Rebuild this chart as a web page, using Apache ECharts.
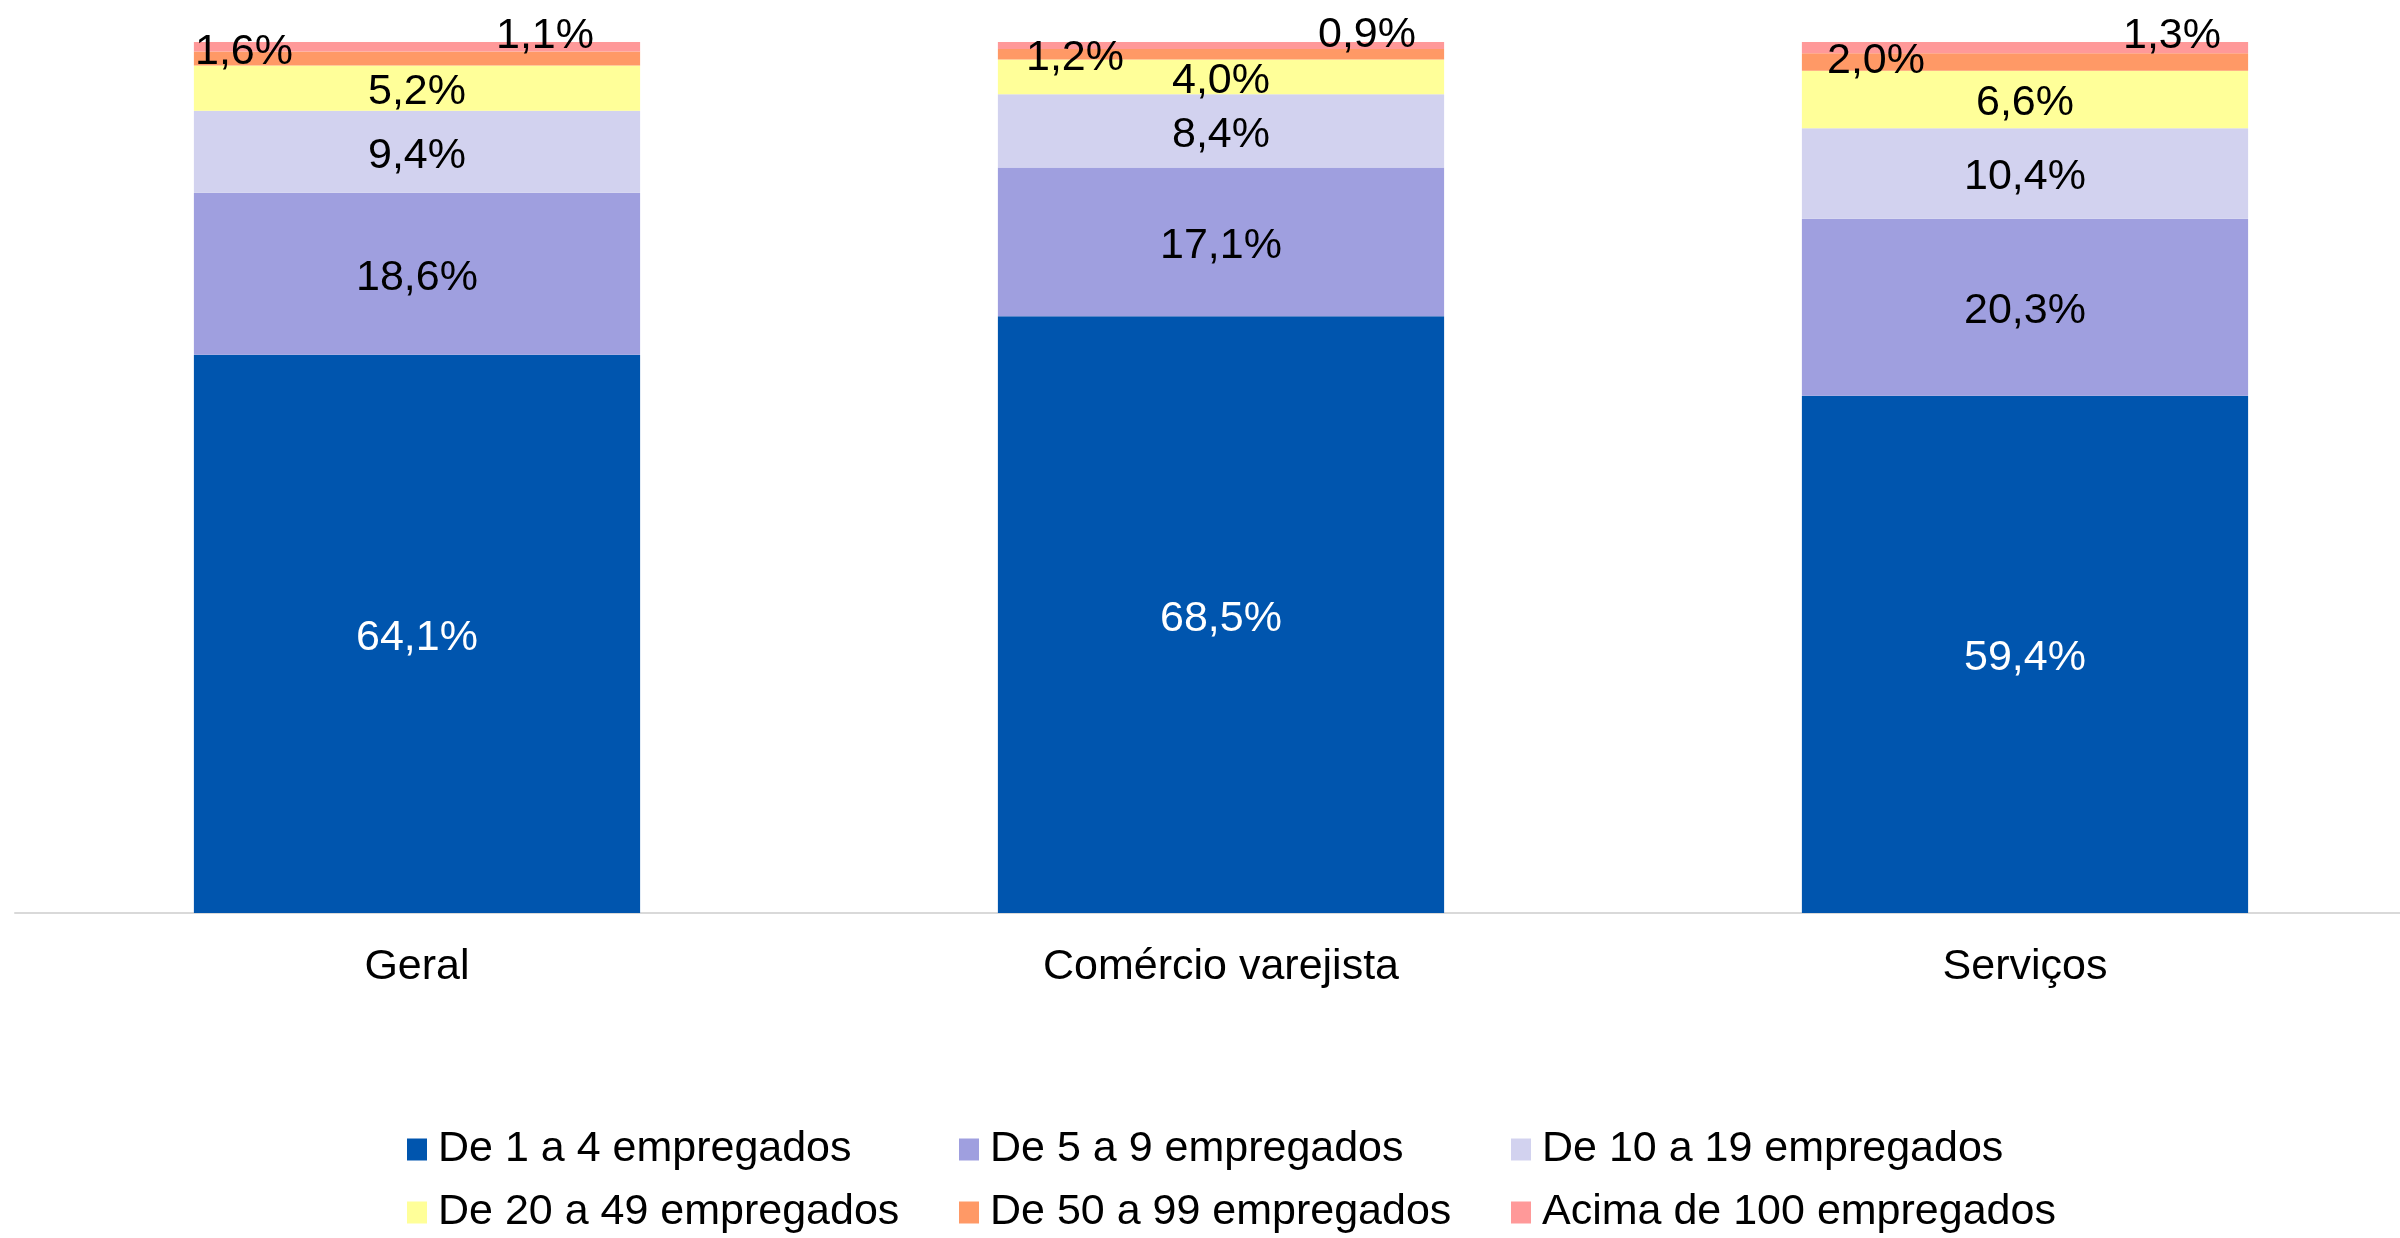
<!DOCTYPE html>
<html>
<head>
<meta charset="utf-8">
<script src="https://cdn.jsdelivr.net/npm/echarts@6/dist/echarts.min.js"></script>
<style>
html,body{margin:0;padding:0;background:#fff;}
#chart{width:2400px;height:1238px;}
</style>
</head>
<body>
<div id="chart"></div>
<script>
const categories = ['Geral', 'Comércio varejista', 'Serviços'];
const seriesNames = ['De 1 a 4 empregados', 'De 5 a 9 empregados', 'De 10 a 19 empregados',
  'De 20 a 49 empregados', 'De 50 a 99 empregados', 'Acima de 100 empregados'];
const de1a4 = [64.1, 68.5, 59.4];
const de5a9 = [18.6, 17.1, 20.3];
const de10a19 = [9.4, 8.4, 10.4];
const de20a49 = [5.2, 4.0, 6.6];
const de50a99 = [1.6, 1.2, 2.0];
const acima100 = [1.1, 0.9, 1.3];

const allValues = [de1a4, de5a9, de10a19, de20a49, de50a99, acima100];
const colors = ['#0055ae', '#9f9fdf', '#d2d2ef', '#ffff99', '#ff9966', '#ff9999'];
const labelColors = ['#ffffff', '#000000', '#000000', '#000000', '#000000', '#000000'];
// label offsets for the thin top segments (per category)
const labelOffsets = {
  4: [[-173, -6], [-146, 4], [-149, -1]],
  5: [[128, -11], [146, -10], [147, -12]]
};
const FONT = "'Liberation Sans', Arial, sans-serif";
const fmt = v => v.toFixed(1).replace('.', ',') + '%';

const series = allValues.map((vals, i) => ({
  name: seriesNames[i],
  type: 'bar',
  stack: 'total',
  barCategoryGap: '44.5%',
  itemStyle: { color: colors[i] },
  label: {
    show: true,
    position: 'inside',
    offset: [0, 4],
    color: labelColors[i],
    fontSize: 43,
    fontFamily: FONT,
    formatter: p => fmt(p.value)
  },
  data: vals.map((v, j) => {
    const d = { value: v };
    if (labelOffsets[i]) {
      d.label = { offset: labelOffsets[i][j] };
    }
    return d;
  })
}));

const chart = echarts.init(document.getElementById('chart'));
chart.setOption({
  animation: false,
  backgroundColor: '#ffffff',
  grid: { left: 15, width: 2412, top: 42, bottom: 325, containLabel: false, outerBoundsMode: 'none' },
  xAxis: {
    type: 'category',
    data: categories,
    axisTick: { show: false },
    axisLine: { lineStyle: { color: '#d9d9d9', width: 2 } },
    axisLabel: { fontSize: 43, fontFamily: FONT, color: '#000', margin: 33 }
  },
  yAxis: {
    type: 'value',
    min: 0,
    max: 100,
    show: false,
    splitLine: { show: false }
  },
  legend: {
    left: 402,
    top: 1123,
    width: 1700,
    itemWidth: 20,
    itemHeight: 22,
    itemGap: 20,
    icon: 'rect',
    textStyle: {
      fontSize: 43,
      fontFamily: FONT,
      color: '#000',
      width: 501,
      lineHeight: 43,
      padding: [0, 0, 0, 6]
    },
    data: seriesNames
  },
  series: series
});
</script>
</body>
</html>
